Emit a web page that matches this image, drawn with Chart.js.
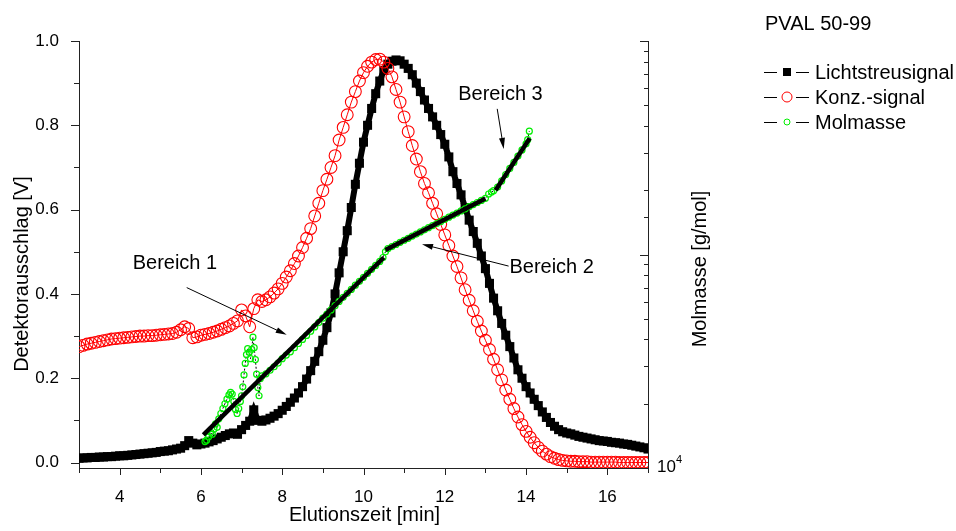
<!DOCTYPE html>
<html>
<head>
<meta charset="utf-8">
<script src="https://cdn.jsdelivr.net/npm/chart.js@4.4.0/dist/chart.umd.min.js"></script>
<style>
  html, body { margin: 0; padding: 0; background: #fff; }
</style>
</head>
<body>
<canvas id="chart" width="956" height="531"></canvas>
<script>
// elution time grid of the two detector signals: 3.0 .. 17.0 min, every 0.1 min
const timeStart = 3.0;
const timeStep = 0.1;

const lichtstreu = [
  0.010, 0.011, 0.011, 0.012, 0.012, 0.013, 0.013, 0.014, 0.014, 0.015,
  0.016, 0.016, 0.017, 0.018, 0.019, 0.020, 0.021, 0.022, 0.023, 0.024,
  0.026, 0.027, 0.028, 0.030, 0.032, 0.034, 0.040, 0.052, 0.046, 0.042,
  0.044, 0.046, 0.049, 0.052, 0.056, 0.060, 0.064, 0.068, 0.070, 0.067,
  0.078, 0.088, 0.098, 0.125, 0.100, 0.098, 0.101, 0.105, 0.110, 0.116,
  0.124, 0.133, 0.143, 0.153, 0.165, 0.180, 0.198, 0.218, 0.240, 0.263,
  0.290, 0.320, 0.355, 0.400, 0.450, 0.500, 0.550, 0.605, 0.660, 0.710,
  0.760, 0.800, 0.840, 0.875, 0.905, 0.930, 0.945, 0.952, 0.955, 0.953,
  0.945, 0.935, 0.920, 0.900, 0.880, 0.860, 0.840, 0.820, 0.800, 0.778,
  0.755, 0.725, 0.690, 0.662, 0.635, 0.605, 0.575, 0.548, 0.520, 0.490,
  0.460, 0.425, 0.390, 0.360, 0.330, 0.302, 0.275, 0.248, 0.220, 0.200,
  0.180, 0.165, 0.150, 0.135, 0.120, 0.107, 0.095, 0.086, 0.078, 0.073,
  0.070, 0.068, 0.065, 0.062, 0.060, 0.058, 0.056, 0.054, 0.052, 0.051,
  0.050, 0.048, 0.047, 0.046, 0.044, 0.043, 0.041, 0.039, 0.037, 0.035,
  0.032
];

const konzSignal = [
  0.275, 0.278, 0.281, 0.283, 0.285, 0.287, 0.289, 0.291, 0.293, 0.294,
  0.295, 0.296, 0.297, 0.298, 0.299, 0.300, 0.300, 0.301, 0.301, 0.302,
  0.303, 0.304, 0.305, 0.306, 0.309, 0.315, 0.322, 0.318, 0.296, 0.298,
  0.302, 0.304, 0.306, 0.309, 0.312, 0.316, 0.320, 0.324, 0.330, 0.336,
  0.362, 0.348, 0.322, 0.365, 0.386, 0.382, 0.386, 0.393, 0.402, 0.412,
  0.425, 0.440, 0.455, 0.472, 0.490, 0.510, 0.532, 0.555, 0.585, 0.615,
  0.645, 0.672, 0.700, 0.728, 0.765, 0.795, 0.825, 0.855, 0.880, 0.905,
  0.925, 0.940, 0.950, 0.956, 0.957, 0.950, 0.935, 0.915, 0.885, 0.855,
  0.820, 0.785, 0.752, 0.720, 0.690, 0.662, 0.640, 0.615, 0.590, 0.565,
  0.540, 0.515, 0.490, 0.465, 0.438, 0.410, 0.385, 0.360, 0.335, 0.312,
  0.290, 0.268, 0.245, 0.220, 0.196, 0.172, 0.150, 0.128, 0.108, 0.090,
  0.074, 0.060, 0.047, 0.036, 0.027, 0.020, 0.014, 0.010, 0.007, 0.005,
  0.004, 0.003, 0.003, 0.002, 0.002, 0.002, 0.001, 0.001, 0.001, 0.001,
  0.001, 0.001, 0.001, 0.000, 0.000, 0.000, 0.000, 0.000, 0.000, 0.000,
  0.000
];

// molar mass (g/mol), own time points
const molTimes = [
  6.10, 6.14, 6.19, 6.24, 6.28, 6.32, 6.36, 6.40, 6.44, 6.49,
  6.54, 6.59, 6.64, 6.69, 6.73, 6.77, 6.81, 6.85, 6.89, 6.93,
  6.97, 7.00, 7.03, 7.06, 7.09, 7.12, 7.15, 7.19, 7.22, 7.25,
  7.28, 7.31, 7.34, 7.37, 7.40, 7.43, 7.46, 7.50, 7.60, 7.70,
  7.80, 7.90, 8.00, 8.10, 8.20, 8.30, 8.40, 8.50, 8.60, 8.70,
  8.80, 8.90, 9.00, 9.10, 9.20, 9.30, 9.40, 9.50, 9.60, 9.70,
  9.80, 9.90, 10.00, 10.10, 10.20, 10.30, 10.40, 10.48, 10.54, 10.60,
  10.70, 10.80, 10.90, 11.00, 11.10, 11.20, 11.30, 11.40, 11.50, 11.60,
  11.70, 11.80, 11.90, 12.00, 12.10, 12.20, 12.30, 12.40, 12.50, 12.60,
  12.70, 12.80, 12.90, 13.00, 13.08, 13.15, 13.20, 13.30, 13.40, 13.50,
  13.60, 13.70, 13.80, 13.90, 14.00, 14.04, 14.08
];
const molMasse = [
  13300, 13500, 14000, 14700, 14400, 15200, 16100, 15500, 17000, 18000,
  19000, 20000, 21000, 22000, 22600, 22200, 20500, 18800, 18000, 19000,
  20500, 21800, 24000, 27300, 30900, 34000, 36200, 34800, 32500, 36000,
  41000, 36600, 32200, 27500, 23800, 21800, 26200, 27000, 27600, 28700,
  29800, 31000, 32500, 33800, 35000, 36600, 38300, 40000, 41800, 43700,
  45800, 48000, 50300, 52600, 55000, 57600, 60300, 63000, 65800, 68600,
  71800, 74900, 78200, 81600, 85200, 88900, 92800, 96800, 103000, 106500,
  108900, 111400, 114000, 116600, 119000, 122000, 124700, 127600, 130500, 133500,
  136600, 139700, 142900, 146200, 149500, 153000, 156400, 160000, 163700, 167500,
  171300, 175200, 179200, 183300, 192000, 196000, 199000, 207000, 221000, 237000,
  253000, 270000, 289000, 309000, 330000, 345000, 378000
];

// straight fits of log(M) in the three ranges
const fitTimes1 = [6.06, 10.50];
const fitMol1 = [14300, 96800];
const fitTimes2 = [10.54, 13.00];
const fitMol2 = [105000, 183000];
const fitTimes3 = [13.25, 14.09];
const fitMol3 = [200000, 350000];

// "Bereich" notes: text anchor and arrow (time, detector signal)
const noteLabels = ['Bereich 1', 'Bereich 2', 'Bereich 3'];
const noteText = [[5.36, 0.472], [14.63, 0.463], [13.37, 0.872]];
const arrowFrom = [[5.65, 0.415], [13.57, 0.466], [13.29, 0.839]];
const arrowTo = [[8.11, 0.303], [11.44, 0.518], [13.45, 0.744]];

const legendTitle = 'PVAL 50-99';
const FONT = '"Liberation Sans", Arial, sans-serif';

function gridPoints(values) {
  return values.map((v, i) => ({ x: +(timeStart + i * timeStep).toFixed(2), y: v }));
}
function pairPoints(xs, ys) {
  return xs.map((x, i) => ({ x: x, y: ys[i] }));
}

function fitDataset(xs, ys) {
  return {
    label: 'fit', data: pairPoints(xs, ys), yAxisID: 'y2',
    borderColor: '#000', borderWidth: 4.5, pointRadius: 0, borderCapStyle: 'butt'
  };
}

const decor = {
  id: 'decor',
  afterDraw(chart) {
    const ctx = chart.ctx;
    const xs = chart.scales.x, ys = chart.scales.y, y2 = chart.scales.y2;
    const area = chart.chartArea;
    ctx.save();
    ctx.strokeStyle = '#222';
    ctx.lineWidth = 1;

    // tick marks
    ctx.beginPath();
    xs.ticks.forEach(t => {
      const px = Math.round(xs.getPixelForValue(t.value)) + 0.5;
      const len = Math.round(t.value) % 2 === 0 ? 7 : 5;
      ctx.moveTo(px, area.bottom); ctx.lineTo(px, area.bottom + len);
    });
    ys.ticks.forEach(t => {
      const py = Math.round(ys.getPixelForValue(t.value)) + 0.5;
      const len = Math.round(t.value * 10) % 2 === 0 ? 8 : 5;
      ctx.moveTo(area.left, py); ctx.lineTo(area.left - len, py);
    });
    y2.ticks.forEach(t => {
      const py = Math.round(y2.getPixelForValue(t.value)) + 0.5;
      const mant = t.value / Math.pow(10, Math.floor(Math.log10(t.value) + 1e-9));
      const len = Math.abs(mant - 1) < 1e-6 ? 8 : 4;
      ctx.moveTo(area.right, py); ctx.lineTo(area.right - len, py);
    });
    ctx.stroke();

    // right axis label 10^4
    ctx.fillStyle = '#000';
    ctx.textBaseline = 'middle';
    ctx.textAlign = 'left';
    const p4 = y2.getPixelForValue(1e4);
    ctx.font = '17px ' + FONT;
    ctx.fillText('10', area.right + 9, p4 - 1);
    ctx.font = '11px ' + FONT;
    ctx.fillText('4', area.right + 28, p4 - 8);

    // axis titles
    ctx.font = '20px ' + FONT;
    ctx.textAlign = 'center';
    ctx.fillText('Elutionszeit [min]', (area.left + area.right) / 2 + 1, 515);
    ctx.save();
    ctx.translate(22, 274);
    ctx.rotate(-Math.PI / 2);
    ctx.fillText('Detektorausschlag [V]', 0, 0);
    ctx.restore();
    ctx.save();
    ctx.translate(700, 269);
    ctx.rotate(-Math.PI / 2);
    ctx.fillText('Molmasse [g/mol]', 0, 0);
    ctx.restore();

    // notes with arrows
    ctx.font = '20px ' + FONT;
    noteLabels.forEach((txt, i) => {
      ctx.fillText(txt, xs.getPixelForValue(noteText[i][0]), ys.getPixelForValue(noteText[i][1]));
      const x0 = xs.getPixelForValue(arrowFrom[i][0]), y0 = ys.getPixelForValue(arrowFrom[i][1]);
      const x1 = xs.getPixelForValue(arrowTo[i][0]), y1 = ys.getPixelForValue(arrowTo[i][1]);
      const ang = Math.atan2(y1 - y0, x1 - x0);
      const head = 11, half = 3;
      ctx.beginPath();
      ctx.moveTo(x0, y0);
      ctx.lineTo(x1 - Math.cos(ang) * head * 0.8, y1 - Math.sin(ang) * head * 0.8);
      ctx.strokeStyle = '#000';
      ctx.stroke();
      ctx.beginPath();
      ctx.moveTo(x1, y1);
      ctx.lineTo(x1 - Math.cos(ang) * head - Math.sin(ang) * half, y1 - Math.sin(ang) * head + Math.cos(ang) * half);
      ctx.lineTo(x1 - Math.cos(ang) * head + Math.sin(ang) * half, y1 - Math.sin(ang) * head - Math.cos(ang) * half);
      ctx.closePath();
      ctx.fill();
    });

    // legend
    ctx.textAlign = 'left';
    ctx.fillText(legendTitle, 765, 24);
    const items = chart.data.datasets.filter(d => d.label !== 'fit').reverse();
    items.forEach((d, i) => {
      const cy = 72 + i * 25;
      ctx.strokeStyle = '#000';
      ctx.lineWidth = 1;
      ctx.beginPath();
      ctx.moveTo(764, cy + 0.5); ctx.lineTo(777, cy + 0.5);
      ctx.moveTo(796, cy + 0.5); ctx.lineTo(809, cy + 0.5);
      ctx.stroke();
      ctx.strokeStyle = d.pointBorderColor;
      if (d.pointStyle === 'rect') {
        ctx.fillStyle = '#000';
        ctx.fillRect(783, cy - 4, 8, 8);
      } else {
        ctx.beginPath();
        ctx.arc(787, cy, Math.min(d.pointRadius, 5), 0, Math.PI * 2);
        ctx.stroke();
      }
      ctx.fillStyle = '#000';
      ctx.fillText(d.label, 815, cy + 1);
    });
    ctx.restore();
  }
};

new Chart(document.getElementById('chart'), {
  type: 'line',
  data: {
    datasets: [
      fitDataset(fitTimes1, fitMol1),
      fitDataset(fitTimes2, fitMol2),
      fitDataset(fitTimes3, fitMol3),
      {
        label: 'Molmasse', data: pairPoints(molTimes, molMasse), yAxisID: 'y2',
        borderColor: '#000', borderWidth: 1, borderDash: [2, 2],
        pointStyle: 'circle', pointRadius: 3, pointBorderWidth: 1.2,
        pointBorderColor: '#00ee00', pointBackgroundColor: 'rgba(0,0,0,0)'
      },
      {
        label: 'Konz.-signal', data: gridPoints(konzSignal), yAxisID: 'y',
        borderColor: '#ff0000', borderWidth: 1,
        pointStyle: 'circle', pointRadius: 5.9, pointBorderWidth: 1.1,
        pointBorderColor: '#ff0000', pointBackgroundColor: 'rgba(0,0,0,0)'
      },
      {
        label: 'Lichtstreusignal', data: gridPoints(lichtstreu), yAxisID: 'y',
        borderColor: '#000', borderWidth: 6,
        pointStyle: 'rect', pointRadius: 6.4, pointBorderWidth: 0,
        pointBorderColor: '#000', pointBackgroundColor: '#000'
      }
    ]
  },
  options: {
    responsive: false,
    animation: false,
    layout: { padding: { top: 41 } },
    plugins: { legend: { display: false }, tooltip: { enabled: false } },
    scales: {
      x: {
        type: 'linear', position: 'bottom', min: 3, max: 17,
        afterFit: s => { s.height = 63; },
        grid: { display: false },
        border: { display: true, color: '#222', width: 1 },
        ticks: {
          stepSize: 1, autoSkip: false, maxRotation: 0, padding: 11,
          color: '#000', font: { family: FONT, size: 17 },
          callback: v => (Math.round(v) % 2 === 0 ? String(Math.round(v)) : '')
        }
      },
      y: {
        type: 'linear', position: 'left', min: -0.013, max: 1.0,
        afterFit: s => { s.width = 79; },
        grid: { display: false },
        border: { display: true, color: '#222', width: 1 },
        ticks: {
          stepSize: 0.1, includeBounds: false, autoSkip: false, padding: 12,
          color: '#000', font: { family: FONT, size: 17 },
          callback: v => (Math.round(v * 10) % 2 === 0 ? Math.abs(v).toFixed(1) : '')
        }
      },
      y2: {
        type: 'logarithmic', position: 'right', min: 1e4, max: 1e6,
        afterFit: s => { s.width = 308; },
        grid: { display: false },
        border: { display: true, color: '#222', width: 1 },
        ticks: { display: false }
      }
    }
  },
  plugins: [decor]
});
</script>
</body>
</html>
